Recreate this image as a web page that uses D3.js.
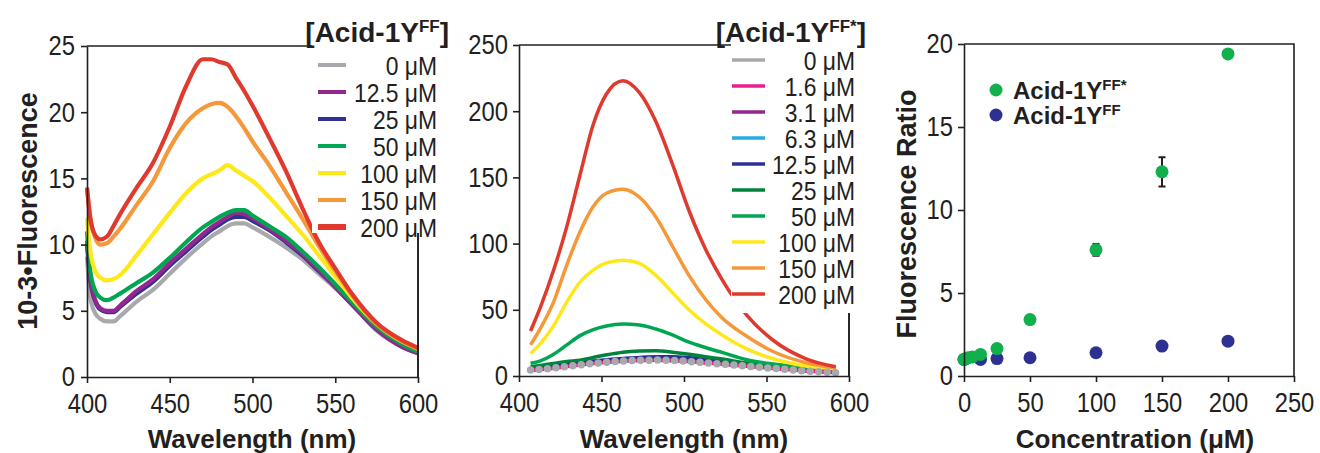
<!DOCTYPE html>
<html>
<head>
<meta charset="utf-8">
<script src="https://cdn.jsdelivr.net/npm/d3@7"></script>
<style>
body { margin: 0; background: #fff; }
.axis text { font-family: "Liberation Sans", Arial, sans-serif; font-size: 28px; fill: #231f20; }
.axis path, .axis line { stroke: #231f20; stroke-width: 1.6; }
.leg { font-family: "Liberation Sans", Arial, sans-serif; font-size: 26px; fill: #231f20; }
.lab { font-family: "Liberation Sans", Arial, sans-serif; font-weight: bold; fill: #231f20; }
</style>
</head>
<body>
<div id="chart"></div>
<script>
// ---- left panel: Acid-1YFF spectra (10^-3 fluorescence) ----
var wavelengthA = [400,402,405,408,412,416,420,430,440,450,460,470,475,480,485,490,495,500,510,520,530,540,550,560,575,590,600];
var ffConcA = ["0 \u03bcM","12.5 \u03bcM","25 \u03bcM","50 \u03bcM","100 \u03bcM","150 \u03bcM","200 \u03bcM"];
var ff0   = [9.1,6.0,4.8,4.4,4.2,4.2,4.6,5.7,6.6,7.8,9.0,10.1,10.6,11.0,11.4,11.6,11.6,11.3,10.6,9.8,8.9,7.8,6.7,5.5,3.5,2.3,1.8];
var ff12  = [10.3,7.5,5.8,5.2,5.0,5.0,5.4,6.5,7.4,8.6,9.7,10.8,11.3,11.7,12.1,12.4,12.3,12.0,11.2,10.3,9.3,8.1,6.8,5.5,3.6,2.3,1.8];
var ff25  = [10.0,7.3,5.7,5.1,4.9,4.9,5.3,6.3,7.2,8.4,9.5,10.6,11.1,11.5,11.9,12.1,12.1,11.8,11.1,10.2,9.2,8.0,6.8,5.5,3.6,2.4,1.9];
var ff50  = [11.0,8.0,6.5,6.0,5.8,6.0,6.3,7.1,7.9,9.0,10.2,11.3,11.7,12.1,12.4,12.6,12.6,12.2,11.4,10.6,9.5,8.3,7.0,5.7,3.8,2.5,1.9];
var ff100 = [12.0,9.5,8.0,7.5,7.3,7.4,7.7,9.2,10.8,12.4,13.9,15.0,15.3,15.6,16.0,15.6,15.2,14.8,13.6,12.2,10.8,9.2,7.6,6.0,4.0,2.7,2.2];
var ff150 = [14.3,12.0,10.5,10.0,10.1,10.6,11.2,13.0,14.8,17.3,19.2,20.3,20.6,20.7,20.4,19.7,18.8,17.8,16.0,14.0,12.0,9.9,8.0,6.2,4.0,2.7,2.1];
var ff200 = [14.3,12.0,10.7,10.4,10.6,11.4,12.3,14.3,16.2,18.9,22.0,24.0,24.0,23.8,23.6,22.6,21.6,20.5,18.1,15.6,12.8,10.2,8.2,6.3,4.1,2.8,2.2];

// ---- middle panel: Acid-1YFF* spectra ----
var wavelengthB = [407,413,421,429,437,445,453,463,473,483,493,503,513,523,538,554,574,592];
var ffsConcB = ["0 \u03bcM","1.6 \u03bcM","3.1 \u03bcM","6.3 \u03bcM","12.5 \u03bcM","25 \u03bcM","50 \u03bcM","100 \u03bcM","150 \u03bcM","200 \u03bcM"];
var ffs0   = [4.5,5,6,7.2,8.4,9.5,10.4,11.3,11.8,12,11.8,11,10,9,7.4,5.8,3.8,2.5];
var ffs1_6 = [4.3,4.9,5.9,7.1,8.3,9.4,10.3,11.2,11.7,11.9,11.6,10.9,9.9,8.9,7.3,5.7,3.8,2.5];
var ffs3_1 = [4.6,5.1,6.1,7.3,8.6,9.7,10.6,11.5,12,12.2,12,11.2,10.2,9.2,7.6,6,4,2.7];
var ffs6_3 = [4.8,5.3,6.4,7.6,8.8,10,10.9,11.8,12.4,12.6,12.4,11.6,10.6,9.5,7.8,6.2,4.2,2.8];
var ffs12  = [5.8,6.5,7.8,9,10.2,11.3,12.3,13.2,14,14.5,14.5,13.8,12.6,11.5,9.3,7.3,5,3.3];
var ffs25  = [7,8,9.5,11,12,14,16,18,18.8,19,18,16.5,14.5,12.8,9.8,7.5,5.2,4];
var ffs50  = [9.6,11.5,16.5,23.5,30.5,35,37.8,39.2,38.5,35.5,31,25.5,21.5,17.8,12.3,9,6.5,5];
var ffs100 = [17,24.5,38,56,71,80,85.5,87.5,85,76,63,50,39.5,31,20.5,13,7.5,5.5];
var ffs150 = [23.5,36,56,84,109,128,138,141,135,120,98,76,58,44,30,18.5,10,6];
var ffs200 = [34,52,80,113,152,190,213,223,214,192,160,125,96,73,46,27,13,7];

// ---- right panel: fluorescence ratio ----
var concStar  = [0,1.6,3.1,6.3,12.5,25,50,100,150,200];
var ratioStar = [1.0,1.05,1.1,1.15,1.3,1.65,3.4,7.6,12.3,19.4];
var errStar   = [0,0,0,0,0,0,0,0.35,0.88,0];
var concFF    = [0,12.5,25,50,100,150,200];
var ratioFF   = [1.0,1.0,1.05,1.1,1.4,1.8,2.1];

var gray = "#a7a9ac", purple = "#93278f", blue = "#2e3192", green = "#00a651",
    yellow = "#ffe81a", orange = "#f4983a", red = "#e03a2f", pink = "#ec1c8c",
    ltblue = "#29abe2", dkgreen = "#00843d";

var narrow = 0.85; // squeeze regular sans into a condensed look

var svg = d3.select("#chart").append("svg")
    .attr("width", 1320)
    .attr("height", 453);

function panel(box, xDom, yDom, xTicks, yTicks, yPad) {
    var x = d3.scaleLinear().domain(xDom).range([box.left, box.right]);
    var y = d3.scaleLinear().domain(yDom).range([box.bottom, box.top]);
    var g = svg.append("g");
    var marks = g.append("g");
    g.append("path")
        .attr("d", `M${box.left},${box.top}H${box.right}V${box.bottom}`)
        .attr("fill", "none")
        .attr("stroke", "#231f20")
        .attr("stroke-width", 1.6);
    var xa = g.append("g").attr("class", "axis")
        .attr("transform", `translate(0,${box.bottom})`)
        .call(d3.axisBottom(x).tickValues(xTicks).tickSize(6).tickSizeOuter(0).tickPadding(10));
    var ya = g.append("g").attr("class", "axis")
        .attr("transform", `translate(${box.left},0)`)
        .call(d3.axisLeft(y).tickValues(yTicks).tickSize(6).tickSizeOuter(0).tickPadding(yPad));
    g.selectAll(".axis").attr("font-size", null).attr("font-family", null);
    xa.selectAll("text").attr("transform", `scale(${narrow},1)`);
    ya.selectAll("text").attr("transform", `scale(${narrow},1)`)
        .attr("x", -(6 + yPad) / narrow);
    return {x: x, y: y, g: g, marks: marks};
}

function legendBox(x0, y0, x1, y1) {
    svg.append("rect").attr("x", x0).attr("y", y0)
        .attr("width", x1 - x0).attr("height", y1 - y0).attr("fill", "#fff");
}

function title(xr, yb, sup) {
    var t = svg.append("text").attr("class", "lab").attr("x", xr).attr("y", yb)
        .attr("text-anchor", "end").attr("font-size", 28);
    t.append("tspan").text("[Acid-1Y");
    t.append("tspan").attr("font-size", 17).attr("dy", -10).text(sup);
    t.append("tspan").attr("dy", 10).text("]");
}

function legText(xr, yb, lbl) {
    svg.append("text").attr("class", "leg")
        .attr("transform", `translate(${xr},${yb}) scale(0.88,1)`)
        .attr("text-anchor", "end").text(lbl);
}

// ---------- left panel ----------
var A = panel({left: 87, right: 418, top: 46, bottom: 377}, [400, 600], [0, 25],
    [400, 450, 500, 550, 600], [0, 5, 10, 15, 20, 25], 6);
var seriesA = [
    {v: ff0, c: gray}, {v: ff25, c: blue}, {v: ff12, c: purple}, {v: ff50, c: green},
    {v: ff100, c: yellow}, {v: ff150, c: orange}, {v: ff200, c: red}
];
var lineA = d3.line().curve(d3.curveMonotoneX)
    .x((d, i) => A.x(wavelengthA[i])).y(d => A.y(d));
A.marks.selectAll("path").data(seriesA).enter().append("path")
    .attr("d", d => lineA(d.v))
    .attr("fill", "none").attr("stroke", d => d.c).attr("stroke-width", 4.2);

legendBox(312, 40, 452, 233);
title(449, 42, "FF");
var legColA = [gray, purple, blue, green, yellow, orange, red];
ffConcA.forEach(function(lbl, i) {
    var yy = 65 + 27 * i;
    svg.append("line").attr("x1", 318).attr("x2", 346).attr("y1", yy).attr("y2", yy)
        .attr("stroke", legColA[i]).attr("stroke-width", i == 6 ? 6 : 4);
    legText(437, yy + 9.5, lbl);
});
svg.append("path").attr("d", "M418,233V377").attr("stroke", "#231f20").attr("stroke-width", 1.6);

svg.append("text").attr("class", "lab").attr("font-size", 27)
    .attr("text-anchor", "middle")
    .attr("transform", "translate(37,211) rotate(-90)")
    .text("10-3\u2022Fluorescence");
svg.append("text").attr("class", "lab").attr("font-size", 26)
    .attr("text-anchor", "middle").attr("x", 252).attr("y", 448)
    .text("Wavelength (nm)");

// ---------- middle panel ----------
var B = panel({left: 519, right: 849, top: 45, bottom: 376}, [400, 600], [0, 250],
    [400, 450, 500, 550, 600], [0, 50, 100, 150, 200, 250], 5);
var seriesB = [
    {v: ffs6_3, c: ltblue}, {v: ffs3_1, c: purple}, {v: ffs12, c: blue},
    {v: ffs25, c: dkgreen}, {v: ffs50, c: green}, {v: ffs100, c: yellow},
    {v: ffs150, c: orange}, {v: ffs200, c: red}, {v: ffs1_6, c: pink}
];
var lineB = d3.line().curve(d3.curveMonotoneX)
    .x((d, i) => B.x(wavelengthB[i])).y(d => B.y(d));
B.marks.selectAll("path.s").data(seriesB).enter().append("path").attr("class", "s")
    .attr("d", d => lineB(d.v))
    .attr("fill", "none").attr("stroke", d => d.c).attr("stroke-width", 3.5);
// 0 uM trace drawn as grey dots on top
B.marks.append("path")
    .attr("d", lineB(ffs0))
    .attr("fill", "none").attr("stroke", gray).attr("stroke-width", 7.5)
    .attr("stroke-linecap", "round").attr("stroke-dasharray", "0 8.5");

legendBox(731, 40, 872, 313);
title(866, 42, "FF*");
var legColB = [gray, pink, purple, ltblue, blue, dkgreen, green, yellow, orange, red];
ffsConcB.forEach(function(lbl, i) {
    var yy = 60 + 26 * i;
    svg.append("line").attr("x1", 732).attr("x2", 765).attr("y1", yy).attr("y2", yy)
        .attr("stroke", legColB[i]).attr("stroke-width", 3.5);
    legText(855, yy + 9.5, lbl);
});
svg.append("path").attr("d", "M849,313V376").attr("stroke", "#231f20").attr("stroke-width", 1.6);

svg.append("text").attr("class", "lab").attr("font-size", 26)
    .attr("text-anchor", "middle").attr("x", 684).attr("y", 448)
    .text("Wavelength (nm)");

// ---------- right panel ----------
var C = panel({left: 964, right: 1294, top: 44, bottom: 376}, [0, 250], [0, 20],
    [0, 50, 100, 150, 200, 250], [0, 5, 10, 15, 20], 5);
C.marks.selectAll("circle.ff").data(concFF).enter().append("circle").attr("class", "ff")
    .attr("cx", d => C.x(d)).attr("cy", (d, i) => C.y(ratioFF[i]))
    .attr("r", 6.5).attr("fill", blue);
var errIdx = d3.range(concStar.length).filter(i => errStar[i] > 0);
errIdx.forEach(function(i) {
    var cx = C.x(concStar[i]), y0 = C.y(ratioStar[i] - errStar[i]), y1 = C.y(ratioStar[i] + errStar[i]);
    C.marks.append("path")
        .attr("d", `M${cx},${y0}V${y1}M${cx-3.5},${y0}H${cx+3.5}M${cx-3.5},${y1}H${cx+3.5}`)
        .attr("stroke", "#231f20").attr("stroke-width", 2).attr("fill", "none");
});
C.marks.selectAll("circle.st").data(concStar).enter().append("circle").attr("class", "st")
    .attr("cx", d => C.x(d)).attr("cy", (d, i) => C.y(ratioStar[i]))
    .attr("r", 6.5).attr("fill", "#12b04c");

var legC = [{c: "#12b04c", sup: "FF*", y: 90}, {c: blue, sup: "FF", y: 115}];
legC.forEach(function(d) {
    svg.append("circle").attr("cx", 996).attr("cy", d.y).attr("r", 6.5).attr("fill", d.c);
    var t = svg.append("text").attr("class", "lab").attr("x", 1013).attr("y", d.y + 8.5)
        .attr("font-size", 24);
    t.append("tspan").text("Acid-1Y");
    t.append("tspan").attr("font-size", 15).attr("dy", -9).text(d.sup);
});

svg.append("text").attr("class", "lab").attr("font-size", 27)
    .attr("text-anchor", "middle")
    .attr("transform", "translate(916,214) rotate(-90)")
    .text("Fluorescence Ratio");
svg.append("text").attr("class", "lab").attr("font-size", 26)
    .attr("text-anchor", "middle").attr("x", 1135).attr("y", 448)
    .text("Concentration (\u03bcM)");
</script>
</body>
</html>
